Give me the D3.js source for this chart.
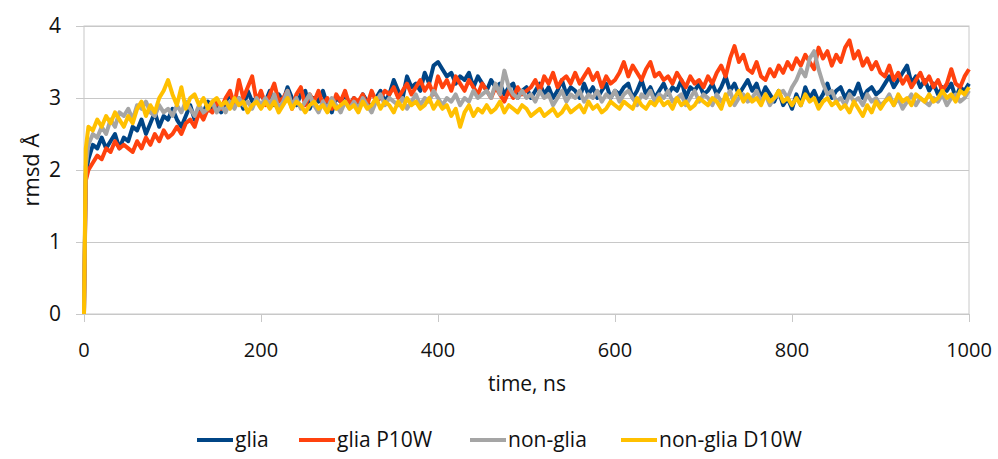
<!DOCTYPE html>
<html>
<head>
<meta charset="utf-8">
<script src="https://cdn.jsdelivr.net/npm/d3@7"></script>
<style>
  body { margin: 0; background: #fff; }
  svg text { font-family: "Open Sans", sans-serif; fill: #111; }
</style>
</head>
<body>
<svg id="chart" width="998" height="459"></svg>
<script>
// time in ns, first two points are the initial rise
var time = [0, 2].concat(d3.range(5, 1001, 5));

var glia = [0, 1.95,
  2.15, 2.35, 2.3, 2.45, 2.3, 2.4, 2.5, 2.3, 2.45, 2.4,
  2.6, 2.55, 2.7, 2.5, 2.65, 2.8, 2.6, 2.75, 2.7, 2.85,
  2.7, 2.6, 2.75, 2.9, 2.7, 2.85, 2.8, 2.95, 2.85, 2.9,
  2.8, 2.95, 3.05, 2.9, 3.0, 2.85, 3.1, 2.95, 3.0, 3.05,
  2.95, 3.1, 2.9, 3.05, 2.95, 3.15, 3.0, 2.9, 3.05, 3.1,
  2.85, 3.0, 2.95, 3.1, 2.9, 2.8, 3.0, 2.95, 3.05, 2.9,
  3.0, 2.9, 3.05, 2.95, 2.85, 3.0, 3.1, 2.95, 3.05, 3.25,
  3.1, 3.0, 3.3, 3.15, 3.2, 3.1, 3.35, 3.2, 3.45, 3.5,
  3.4, 3.3, 3.35, 3.2, 3.3, 3.25, 3.35, 3.15, 3.3, 3.2,
  3.1, 3.25, 3.15, 3.2, 3.05, 3.15, 3.2, 3.0, 3.1, 3.15,
  3.0, 3.1, 3.2, 3.05, 3.15, 3.0, 3.1, 3.25, 3.05, 3.15,
  3.1, 3.0, 3.2, 3.05, 3.15, 3.0, 3.1, 3.2, 3.0, 3.1,
  3.05, 3.15, 3.2, 3.0, 3.1, 3.25, 3.05, 3.15, 3.0, 3.1,
  3.2, 3.05, 3.15, 3.1, 3.25, 3.0, 3.15, 3.1, 3.2, 3.05,
  3.1, 3.2, 3.05, 3.15, 3.3, 3.1, 3.2, 3.05, 3.15, 3.25,
  3.1, 3.2, 3.0, 3.15, 3.05, 2.95, 3.1, 2.9, 3.0, 2.85,
  3.05, 2.9, 3.15, 3.0, 3.1, 2.95, 3.05, 3.2, 3.0, 3.1,
  3.15, 3.0, 3.1, 3.05, 3.2, 3.0, 3.1, 3.15, 3.05, 3.1,
  3.2, 3.3, 3.15, 3.25, 3.35, 3.45, 3.2, 3.3, 3.15, 3.25,
  3.1, 3.2, 3.05, 3.15, 3.1, 3.2, 3.0, 3.15, 3.1, 3.2];

var gliaP10W = [0, 1.85,
  2.0, 2.1, 2.2, 2.15, 2.3, 2.25, 2.4, 2.3, 2.35, 2.3,
  2.25, 2.4, 2.3, 2.45, 2.35, 2.5, 2.4, 2.55, 2.45, 2.5,
  2.6, 2.5, 2.65, 2.7, 2.6, 2.8, 2.7, 2.85, 2.8, 2.95,
  2.85, 3.0, 3.1, 2.9, 3.25, 3.0, 3.15, 3.3, 2.95, 3.1,
  2.9, 3.05, 3.2, 2.95, 3.0, 3.1, 2.85, 3.05, 3.15, 2.9,
  3.05, 2.95, 3.1, 2.9, 3.0, 2.85, 3.05, 2.95, 3.1, 2.9,
  3.0, 2.95, 3.05, 2.9, 3.1, 2.95, 3.0, 3.1, 3.05, 3.15,
  3.0, 3.1, 3.2, 3.05, 3.15, 3.25, 3.1, 3.2, 3.05, 3.3,
  3.15, 3.25, 3.1, 3.3, 3.2, 3.1, 3.25, 3.15, 3.05, 3.2,
  3.1, 3.0, 3.15, 3.05, 2.95, 3.1, 3.0, 3.15, 3.05, 3.1,
  3.15, 3.25, 3.1, 3.3, 3.2, 3.35, 3.15, 3.25, 3.3, 3.2,
  3.35, 3.2, 3.3, 3.4, 3.25, 3.35, 3.15, 3.3, 3.2, 3.25,
  3.35, 3.5, 3.3, 3.45, 3.35, 3.25, 3.4, 3.5, 3.3, 3.35,
  3.25, 3.3, 3.2, 3.35, 3.25, 3.15, 3.3, 3.2, 3.25, 3.15,
  3.3, 3.2, 3.35, 3.45, 3.3, 3.55, 3.72, 3.5, 3.6, 3.4,
  3.35, 3.5, 3.3, 3.25, 3.4, 3.3, 3.45, 3.35, 3.5, 3.4,
  3.55, 3.45, 3.6, 3.5, 3.4, 3.7, 3.55, 3.65, 3.45, 3.6,
  3.5, 3.7, 3.8, 3.55, 3.65, 3.45, 3.55, 3.4, 3.5, 3.35,
  3.3, 3.45, 3.25, 3.35, 3.2, 3.3, 3.15, 3.25, 3.35, 3.2,
  3.3, 3.15, 3.25, 3.1, 3.2, 3.4, 3.2, 3.15, 3.3, 3.4];

var nonGlia = [0, 2.05,
  2.35, 2.5, 2.45, 2.6, 2.5, 2.7, 2.6, 2.8, 2.75, 2.85,
  2.7, 2.9, 2.85, 2.95, 2.8, 2.75, 2.9, 2.8, 2.85, 2.75,
  2.9, 2.8, 2.95, 2.85, 2.75, 2.9, 2.8, 2.85, 2.95, 2.8,
  2.9, 2.8, 2.95, 2.85, 3.0, 2.9, 2.95, 2.85, 3.0, 2.9,
  3.0, 2.9, 3.05, 2.85, 2.95, 3.1, 2.9, 3.0, 2.85, 2.95,
  3.05, 2.9, 2.8, 2.95, 2.85, 3.0, 2.9, 2.8, 2.95, 2.85,
  2.95, 2.85, 3.0, 2.9, 2.8, 2.95, 3.05, 2.9, 3.0, 2.95,
  2.9, 3.0, 2.85, 2.95, 3.05, 2.9, 3.0, 2.95, 3.1, 3.0,
  2.9, 3.0, 2.95, 3.05, 2.9, 3.0, 2.95, 3.1, 3.0, 3.05,
  3.1, 3.0, 3.2, 3.05, 3.38, 3.15, 3.05, 3.0, 3.1, 3.0,
  3.05, 2.95, 3.1, 3.0, 3.05, 2.9, 3.0, 3.1, 2.95, 3.05,
  3.0, 3.1, 2.95, 3.05, 3.0, 3.1, 2.95, 3.05, 3.0, 3.1,
  2.95, 3.05, 3.1, 3.0, 2.9, 3.05, 3.0, 3.1, 2.95, 3.05,
  3.0, 3.1, 2.95, 3.0, 3.05, 2.9, 3.0, 3.1, 2.95, 3.05,
  3.0, 2.9, 3.05, 2.95, 3.0, 3.1, 2.9, 3.0, 3.05, 2.95,
  3.0, 3.1, 2.95, 3.05, 2.9, 3.0, 3.05, 3.1, 3.0, 3.15,
  3.25, 3.4, 3.3, 3.55, 3.65, 3.4, 3.2, 3.05, 3.1, 2.95,
  3.0, 2.9, 3.05, 2.95, 3.0, 2.9, 3.05, 2.95, 3.0, 2.9,
  2.95, 3.05, 2.9, 3.0, 2.85, 2.95, 3.05, 2.9, 3.0, 2.95,
  2.9, 3.0, 2.95, 3.05, 2.9, 3.0, 3.05, 2.95, 3.0, 3.1];

var nonGliaD10W = [0, 2.3,
  2.6, 2.55, 2.7, 2.6, 2.75, 2.65, 2.8, 2.7, 2.6, 2.75,
  2.65, 2.85, 2.95, 2.75, 2.9, 2.8, 3.0, 3.1, 3.25, 3.05,
  2.9, 3.15, 2.85, 3.0, 3.05, 2.9, 3.0, 2.85, 2.95, 3.0,
  2.9, 2.95, 2.85, 3.0, 2.9, 2.95, 2.8, 2.9, 2.95, 2.85,
  2.95, 2.85, 2.95, 2.8, 2.9, 3.0, 2.85, 2.95, 2.9, 2.8,
  2.9, 2.95, 2.85, 2.9, 2.8, 2.95, 2.85, 2.9, 2.95, 2.85,
  2.9, 2.8, 2.95, 2.85, 2.9, 3.0, 2.85, 2.95, 2.9, 2.8,
  2.95, 2.85, 3.0, 2.9, 2.95, 2.85, 2.9, 3.0, 2.85, 2.95,
  2.85, 2.9, 2.75, 2.85, 2.6, 2.8, 2.9, 2.75, 2.85, 2.8,
  2.9, 2.8, 2.85, 2.95, 2.8, 2.9, 2.85, 2.8, 2.9, 2.85,
  2.75, 2.8, 2.85, 2.75, 2.8, 2.85, 2.75, 2.8, 2.9, 2.8,
  2.85, 2.9, 2.8, 2.95, 2.85, 2.9, 2.8, 2.85, 2.95, 2.9,
  2.85, 2.95, 2.9, 2.85, 3.0, 2.9, 2.85, 2.95, 2.9, 3.0,
  2.9, 2.95, 2.85, 3.0, 2.9, 2.95, 2.85, 2.9, 3.0, 2.95,
  2.9, 3.0, 2.95, 2.85, 3.05, 2.9, 3.0, 3.1, 2.95, 3.05,
  2.95, 3.0, 2.9, 3.05, 2.95, 3.0, 3.1, 2.95, 3.0, 2.9,
  3.0, 2.9, 3.05, 2.95, 3.0, 2.85, 2.95, 3.0, 2.9, 2.95,
  2.85, 2.9, 2.8, 2.95, 2.85, 2.75, 2.9, 2.8, 2.95, 2.85,
  2.95, 3.0, 2.9, 3.05, 2.95, 3.0, 2.9, 3.05, 3.0, 2.95,
  3.05, 2.95, 3.0, 3.1, 3.0, 3.05, 2.95, 3.1, 3.05, 3.15];

var seriesNames = ["glia", "glia P10W", "non-glia", "non-glia D10W"];
var seriesValues = [glia, gliaP10W, nonGlia, nonGliaD10W];
var colors = ["#004586", "#ff420e", "#a5a5a5", "#ffc000"];
var xTicks = [0, 200, 400, 600, 800, 1000];
var yTicks = [0, 1, 2, 3, 4];

var svg = d3.select("#chart");
var plotLeft = 84, plotRight = 969, plotTop = 26, plotBottom = 314;

var x = d3.scaleLinear().domain([0, 1000]).range([plotLeft, plotRight]);
var y = d3.scaleLinear().domain([0, 4]).range([plotBottom, plotTop]);

// gridlines + left ticks
svg.append("g")
  .attr("transform", "translate(" + plotLeft + ",0)")
  .call(d3.axisLeft(y).tickValues(yTicks).tickFormat(""))
  .call(g => g.select(".domain").remove())
  .call(g => g.selectAll("line").attr("x1", -8).attr("x2", plotRight - plotLeft).attr("stroke", "#c8c8c8"));

// plot border
svg.append("rect")
  .attr("x", plotLeft).attr("y", plotTop)
  .attr("width", plotRight - plotLeft).attr("height", plotBottom - plotTop)
  .attr("fill", "none").attr("stroke", "#c8c8c8");

// bottom ticks
svg.append("g")
  .attr("transform", "translate(0," + plotBottom + ")")
  .call(d3.axisBottom(x).tickValues(xTicks).tickSize(8).tickFormat(""))
  .call(g => g.select(".domain").remove())
  .call(g => g.selectAll("line").attr("stroke", "#c8c8c8"));

svg.selectAll(".ylab").data(yTicks).enter().append("text")
  .attr("x", 61).attr("y", d => y(d) + 7)
  .attr("text-anchor", "end").style("font-size", "21px").text(d => d);

svg.selectAll(".xlab").data(xTicks).enter().append("text")
  .attr("x", d => x(d)).attr("y", 357)
  .attr("text-anchor", "middle").style("font-size", "20px").text(d => d);

svg.append("text").attr("x", 527).attr("y", 391)
  .attr("text-anchor", "middle").style("font-size", "21px").text("time, ns");

svg.append("text").attr("transform", "translate(39,170) rotate(-90)")
  .attr("text-anchor", "middle").style("font-size", "22px").text("rmsd Å");

var line = d3.line()
  .x((d, i) => x(time[i]))
  .y(d => y(d));

svg.selectAll(".series").data(seriesValues).enter().append("path")
  .attr("d", line)
  .attr("fill", "none")
  .attr("stroke", (d, i) => colors[i])
  .attr("stroke-width", 4)
  .attr("stroke-linejoin", "round");

// legend
var legendX = [197, 299, 470, 621];
seriesNames.forEach(function(name, i) {
  svg.append("line")
    .attr("x1", legendX[i]).attr("x2", legendX[i] + 36)
    .attr("y1", 440).attr("y2", 440)
    .attr("stroke", colors[i]).attr("stroke-width", 4);
  svg.append("text")
    .attr("x", legendX[i] + 38).attr("y", 447)
    .style("font-size", "21px").text(name);
});
</script>
</body>
</html>
